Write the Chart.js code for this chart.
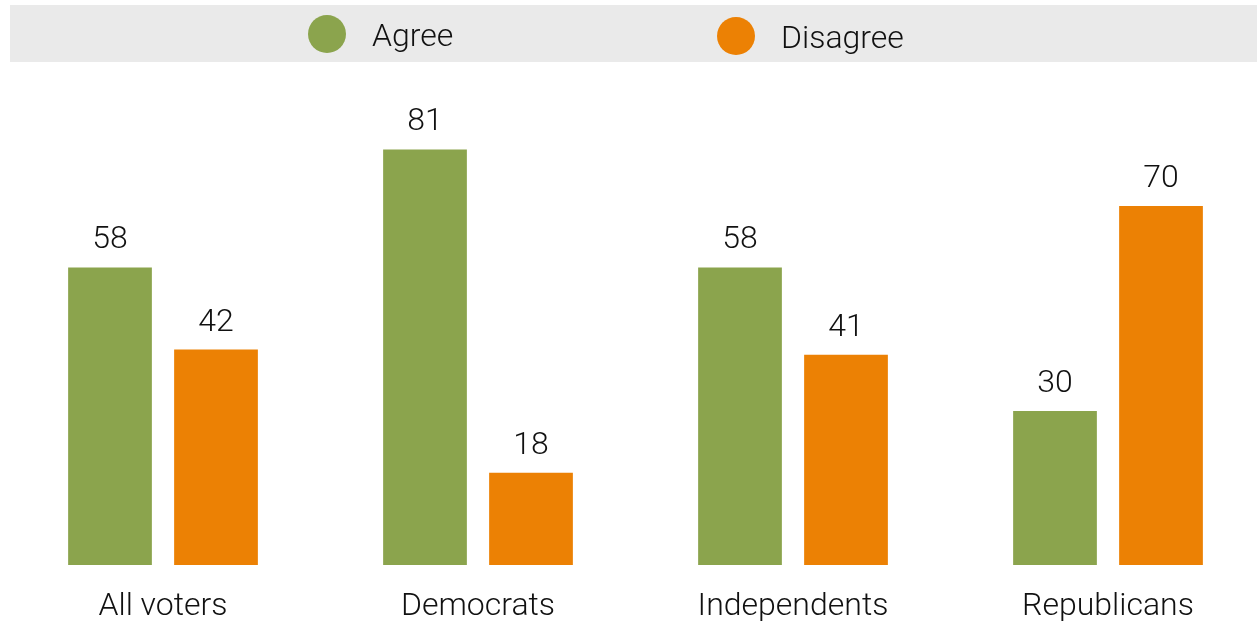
<!DOCTYPE html>
<html>
<head>
<meta charset="utf-8">
<script src="https://cdn.jsdelivr.net/npm/chart.js@4.4.1/dist/chart.umd.min.js"></script>
<style>
html, body { margin: 0; padding: 0; background: #fff; overflow: hidden; }
#wrap { width: 1266px; height: 621px; }
</style>
</head>
<body>
<div id="wrap"><canvas id="chart" width="1266" height="621"></canvas></div>
<script>
// chart values
const categories = ['All voters', 'Democrats', 'Independents', 'Republicans'];
const seriesNames = ['Agree', 'Disagree'];
const agreeValues = [58, 81, 58, 30];
const disagreeValues = [42, 18, 41, 70];
const seriesColors = ['#8ba44d', '#ec8104'];
const yMax = 100;

const FONT = 'Roboto, "Liberation Sans", Arial, sans-serif';
const WEIGHT = '300';
const TEXT_COLOR = '#111111';

// gray band with the legend circles and names
const legendBand = {
    id: 'legendBand',
    beforeDraw: function(chart) {
        var ctx = chart.ctx;
        var spots = [[327, 34], [736, 36]];
        ctx.save();
        ctx.fillStyle = '#eaeaea';
        ctx.fillRect(10, 5, chart.width - 10, 57);
        ctx.font = WEIGHT + ' 32px ' + FONT;
        ctx.textBaseline = 'middle';
        ctx.textAlign = 'left';
        chart.data.datasets.forEach(function(ds, i) {
            var x = spots[i][0], y = spots[i][1];
            ctx.fillStyle = ds.backgroundColor;
            ctx.beginPath();
            ctx.arc(x, y, 19, 0, Math.PI * 2);
            ctx.fill();
            ctx.fillStyle = TEXT_COLOR;
            ctx.fillText(ds.label, x + 45, y + 4);
        });
        ctx.restore();
    }
};

// numbers above the bars
const valueLabels = {
    id: 'valueLabels',
    afterDatasetsDraw: function(chart) {
        var ctx = chart.ctx;
        ctx.save();
        ctx.font = WEIGHT + ' 32px ' + FONT;
        ctx.fillStyle = TEXT_COLOR;
        ctx.textAlign = 'center';
        ctx.textBaseline = 'alphabetic';
        chart.data.datasets.forEach(function(ds, i) {
            chart.getDatasetMeta(i).data.forEach(function(bar, j) {
                ctx.fillText(String(ds.data[j]), bar.x, bar.y - 19);
            });
        });
        ctx.restore();
    }
};

var ctx = document.getElementById('chart').getContext('2d');
var chart = new Chart(ctx, {
    type: 'bar',
    data: {
        labels: categories,
        datasets: [{
            label: seriesNames[0],
            data: agreeValues,
            backgroundColor: seriesColors[0]
        }, {
            label: seriesNames[1],
            data: disagreeValues,
            backgroundColor: seriesColors[1]
        }]
    },
    options: {
        responsive: false,
        animation: false,
        devicePixelRatio: 1,
        categoryPercentage: 0.673,
        barPercentage: 0.79,
        layout: {
            padding: { top: 52, left: 5.5, right: 0.5, bottom: 0 }
        },
        plugins: {
            legend: { display: false },
            tooltip: { enabled: false }
        },
        scales: {
            x: {
                grid: { display: false, drawTicks: false },
                border: { display: false },
                ticks: {
                    color: TEXT_COLOR,
                    padding: 26,
                    font: { family: FONT, size: 32, weight: WEIGHT, lineHeight: 1 }
                },
                afterFit: function(scale) {
                    scale.height = 56;
                }
            },
            y: {
                display: false,
                min: 0,
                max: yMax
            }
        }
    },
    plugins: [legendBand, valueLabels]
});
</script>
</body>
</html>
